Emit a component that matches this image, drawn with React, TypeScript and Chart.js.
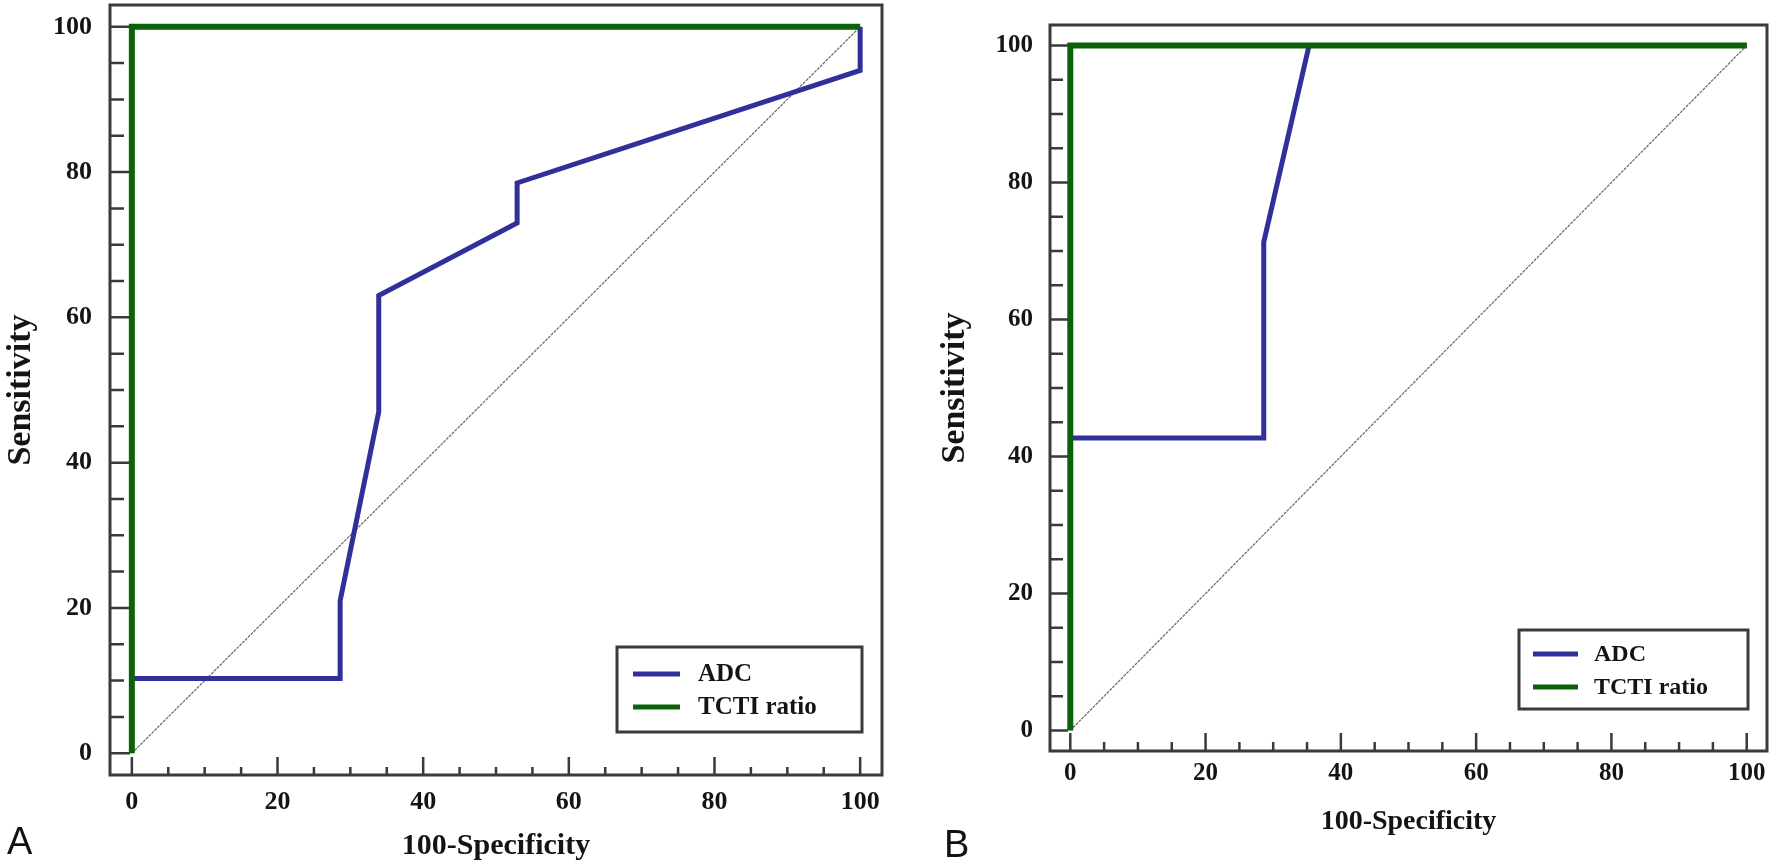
import React, { useEffect, useRef } from "react";
import { Chart, registerables } from "chart.js";

Chart.register(...registerables);

// ---------- data ----------
const tickValues = [0, 20, 40, 60, 80, 100];
const minorTickValues = [5, 10, 15, 25, 30, 35, 45, 50, 55, 65, 70, 75, 85, 90, 95];
const axisMin = -3;
const axisMax = 103;

const seriesNames = ["ADC", "TCTI ratio"];
const xTitle = "100-Specificity";
const yTitle = "Sensitivity";

// Panel A
const adcA_x = [0, 28.6, 28.6, 33.9, 33.9, 52.9, 52.9, 100, 100];
const adcA_y = [10.3, 10.3, 21, 47, 63, 73, 78.5, 94, 100];
const tctiA_x = [0, 0, 100];
const tctiA_y = [0, 100, 100];

// Panel B
const adcB_x = [0, 28.6, 28.6, 35.3, 100];
const adcB_y = [42.7, 42.7, 71.3, 100, 100];
const tctiB_x = [0, 0, 100];
const tctiB_y = [0, 100, 100];

// chance line
const refX = [0, 100];
const refY = [0, 100];

// ---------- styles ----------
const BLUE = "#30309a";
const GREEN = "#0b620b";
const FRAME = "#3a3a3a";
const TEXT = "#141414";
const SERIF = "'Liberation Serif', 'Times New Roman', serif";

type Panel = {
  label: string;
  left: number;
  top: number;
  width: number;
  height: number;
  pad: { left: number; right: number; top: number; bottom: number };
  yAxisWidth: number;
  xAxisHeight: number;
  tickFont: number;
  yTickPad: number;
  xTickPad: number;
  xTitleFont: number;
  xTitlePad: number;
  yTitleFont: number;
  yTitlePad: number;
  majorY: number;
  minorY: number;
  majorX: number;
  minorX: number;
  legend: {
    right: number;
    bottom: number;
    w: number;
    h: number;
    font: number;
    lineX: number;
    lineLen: number;
    textX: number;
    rows: number[];
  };
  adcX: number[];
  adcY: number[];
  tctiX: number[];
  tctiY: number[];
  labelPos: { left: number; top: number };
};

const panels: Panel[] = [
  {
    label: "A",
    left: 0,
    top: 0,
    width: 900,
    height: 867,
    pad: { left: 0, right: 18, top: 5, bottom: 0 },
    yAxisWidth: 110,
    xAxisHeight: 92,
    tickFont: 26,
    yTickPad: 18,
    xTickPad: 12,
    xTitleFont: 30,
    xTitlePad: 3,
    yTitleFont: 34,
    yTitlePad: 1,
    majorY: 20,
    minorY: 14,
    majorX: 18,
    minorX: 8,
    legend: { right: 20, bottom: 43, w: 245, h: 85, font: 25, lineX: 16, lineLen: 47, textX: 81, rows: [27, 60] },
    adcX: adcA_x,
    adcY: adcA_y,
    tctiX: tctiA_x,
    tctiY: tctiA_y,
    labelPos: { left: 7, top: 822 },
  },
  {
    label: "B",
    left: 900,
    top: 0,
    width: 870,
    height: 867,
    pad: { left: 0, right: 3, top: 25, bottom: 0 },
    yAxisWidth: 150,
    xAxisHeight: 116,
    tickFont: 25,
    yTickPad: 17,
    xTickPad: 8,
    xTitleFont: 28,
    xTitlePad: 28,
    yTitleFont: 34,
    yTitlePad: 35,
    majorY: 18,
    minorY: 13,
    majorX: 18,
    minorX: 9,
    legend: { right: 19, bottom: 42, w: 229, h: 79, font: 24, lineX: 14, lineLen: 45, textX: 75, rows: [24, 57] },
    adcX: adcB_x,
    adcY: adcB_y,
    tctiX: tctiB_x,
    tctiY: tctiB_y,
    labelPos: { left: 944, top: 825 },
  },
];

const toPoints = (xs: number[], ys: number[]) => xs.map((x, i) => ({ x, y: ys[i] }));

const rocPlugin = {
  id: "roc",
  beforeDatasetsDraw(chart: any, _args: any, opts: any) {
    const { ctx, chartArea } = chart;
    const xs = chart.scales.x;
    const ys = chart.scales.y;
    const { left, right, top, bottom } = chartArea;
    ctx.save();
    ctx.strokeStyle = FRAME;
    ctx.lineCap = "butt";
    // ticks
    ctx.lineWidth = 2.5;
    ctx.beginPath();
    tickValues.forEach((v) => {
      const py = ys.getPixelForValue(v);
      ctx.moveTo(left, py);
      ctx.lineTo(left + opts.majorY, py);
      const px = xs.getPixelForValue(v);
      ctx.moveTo(px, bottom);
      ctx.lineTo(px, bottom - opts.majorX);
    });
    minorTickValues.forEach((v) => {
      const py = ys.getPixelForValue(v);
      ctx.moveTo(left, py);
      ctx.lineTo(left + opts.minorY, py);
      const px = xs.getPixelForValue(v);
      ctx.moveTo(px, bottom);
      ctx.lineTo(px, bottom - opts.minorX);
    });
    ctx.stroke();
    // frame
    ctx.lineWidth = 3;
    ctx.strokeRect(left, top, right - left, bottom - top);
    ctx.restore();
  },
  afterDatasetsDraw(chart: any, _args: any, opts: any) {
    const { ctx, chartArea } = chart;
    const L = opts.legend;
    const bx = chartArea.right - L.right - L.w;
    const by = chartArea.bottom - L.bottom - L.h;
    ctx.save();
    ctx.fillStyle = "#ffffff";
    ctx.fillRect(bx, by, L.w, L.h);
    ctx.strokeStyle = FRAME;
    ctx.lineWidth = 3;
    ctx.strokeRect(bx, by, L.w, L.h);
    ctx.font = `bold ${L.font}px ${SERIF}`;
    ctx.textBaseline = "middle";
    ctx.textAlign = "left";
    seriesNames.forEach((name, i) => {
      const ds = chart.data.datasets.find((d: any) => d.label === name);
      if (!ds) return;
      const ry = by + L.rows[i];
      ctx.strokeStyle = ds.borderColor;
      ctx.lineWidth = 5;
      ctx.beginPath();
      ctx.moveTo(bx + L.lineX, ry);
      ctx.lineTo(bx + L.lineX + L.lineLen, ry);
      ctx.stroke();
      ctx.fillStyle = TEXT;
      ctx.fillText(name, bx + L.textX, ry + 1);
    });
    ctx.restore();
  },
};

function RocPanel({ p }: { p: Panel }) {
  const ref = useRef<HTMLCanvasElement>(null);
  useEffect(() => {
    const canvas = ref.current;
    if (!canvas) return;
    const lineDs = (label: string, data: any[], color: string, width: number, dash: number[] = []) => ({
      label,
      data,
      borderColor: color,
      backgroundColor: color,
      borderWidth: width,
      borderDash: dash,
      pointRadius: 0,
      pointHoverRadius: 0,
      showLine: true,
      fill: false,
      tension: 0,
      borderJoinStyle: "miter" as const,
      borderCapStyle: "butt" as const,
    });
    const chart = new Chart(canvas, {
      type: "line",
      data: {
        datasets: [
          lineDs(seriesNames[1], toPoints(p.tctiX, p.tctiY), GREEN, 6),
          lineDs(seriesNames[0], toPoints(p.adcX, p.adcY), BLUE, 5),
          lineDs("reference", toPoints(refX, refY), "#666666", 1.2, [3, 1]),
        ],
      },
      options: {
        responsive: false,
        animation: false,
        devicePixelRatio: 1,
        layout: { padding: p.pad },
        events: [],
        plugins: {
          legend: { display: false },
          tooltip: { enabled: false },
          roc: { majorY: p.majorY, minorY: p.minorY, majorX: p.majorX, minorX: p.minorX, legend: p.legend },
        } as any,
        scales: {
          x: {
            type: "linear",
            min: axisMin,
            max: axisMax,
            grid: { display: false, drawTicks: false },
            border: { display: false },
            afterBuildTicks: (s: any) => {
              s.ticks = tickValues.map((v) => ({ value: v }));
            },
            afterFit: (s: any) => {
              s.height = p.xAxisHeight;
              s.paddingLeft = 0;
              s.paddingRight = 0;
              s.paddingTop = 0;
              s.paddingBottom = 0;
            },
            ticks: {
              padding: p.xTickPad,
              color: TEXT,
              maxRotation: 0,
              autoSkip: false,
              font: { family: SERIF, size: p.tickFont, weight: "bold" },
            },
            title: {
              display: true,
              text: xTitle,
              color: TEXT,
              padding: { top: 0, bottom: p.xTitlePad },
              font: { family: SERIF, size: p.xTitleFont, weight: "bold" },
            },
          },
          y: {
            type: "linear",
            min: axisMin,
            max: axisMax,
            grid: { display: false, drawTicks: false },
            border: { display: false },
            afterBuildTicks: (s: any) => {
              s.ticks = tickValues.map((v) => ({ value: v }));
            },
            afterFit: (s: any) => {
              s.width = p.yAxisWidth;
              s.paddingLeft = 0;
              s.paddingRight = 0;
              s.paddingTop = 0;
              s.paddingBottom = 0;
            },
            ticks: {
              padding: p.yTickPad,
              color: TEXT,
              autoSkip: false,
              font: { family: SERIF, size: p.tickFont, weight: "bold" },
            },
            title: {
              display: true,
              text: yTitle,
              color: TEXT,
              padding: { top: p.yTitlePad, bottom: 0 },
              font: { family: SERIF, size: p.yTitleFont, weight: "bold" },
            },
          },
        },
      } as any,
      plugins: [rocPlugin],
    });
    return () => chart.destroy();
  }, [p]);
  return (
    <canvas
      ref={ref}
      width={p.width}
      height={p.height}
      style={{ position: "absolute", left: p.left, top: p.top, width: p.width, height: p.height, display: "block" }}
    />
  );
}

export default function App() {
  return (
    <div
      style={{
        position: "absolute",
        left: 0,
        top: 0,
        width: 1770,
        height: 867,
        background: "#ffffff",
        overflow: "hidden",
      }}
    >
      {panels.map((p) => (
        <RocPanel key={p.label} p={p} />
      ))}
      {panels.map((p) => (
        <div
          key={"lbl" + p.label}
          style={{
            position: "absolute",
            left: p.labelPos.left,
            top: p.labelPos.top,
            fontFamily: "'Liberation Sans', Arial, sans-serif",
            fontSize: 38,
            lineHeight: 1,
            color: "#111",
          }}
        >
          {p.label}
        </div>
      ))}
    </div>
  );
}
